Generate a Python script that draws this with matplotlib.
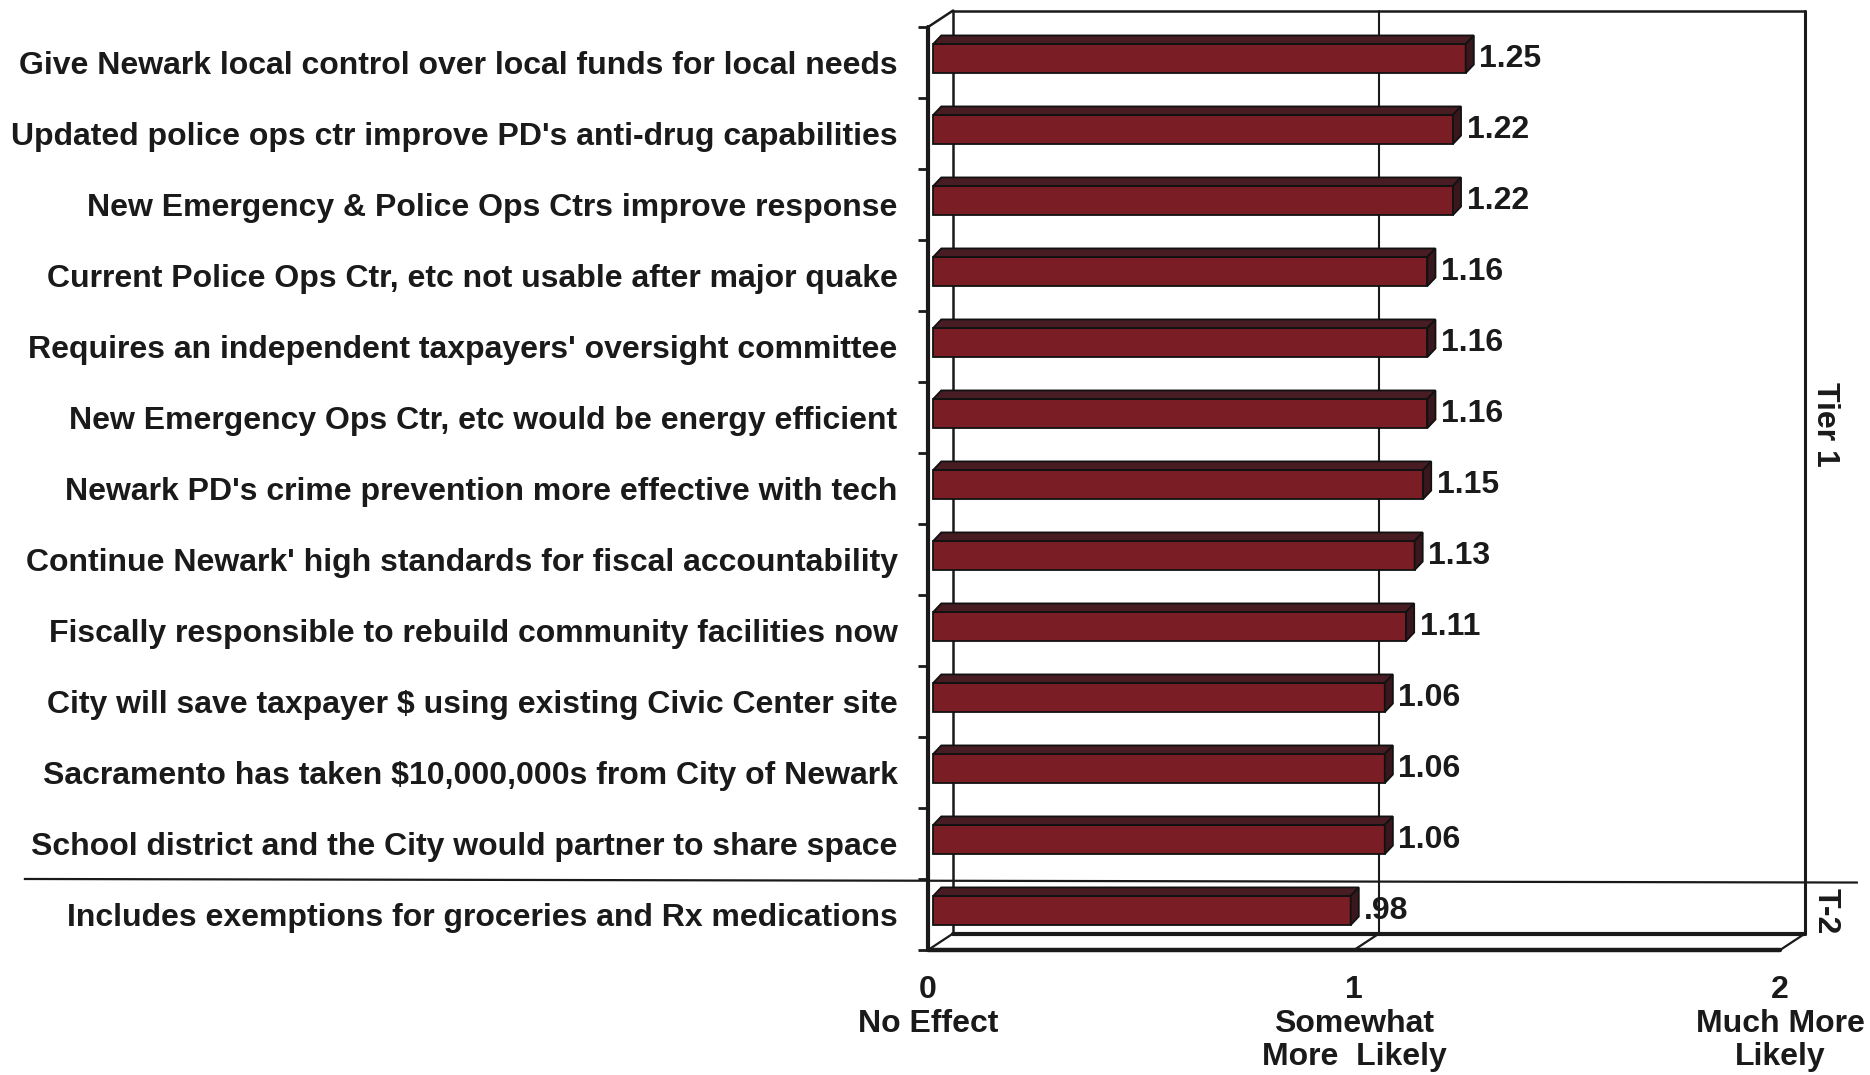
import matplotlib.pyplot as plt
from matplotlib.patches import Polygon

# survey items, top to bottom, with mean scores
labels = [
    "Give Newark local control over local funds for local needs",
    "Updated police ops ctr improve PD's anti-drug capabilities",
    "New Emergency & Police Ops Ctrs improve response",
    "Current Police Ops Ctr, etc not usable after major quake",
    "Requires an independent taxpayers' oversight committee",
    "New Emergency Ops Ctr, etc would be energy efficient",
    "Newark PD's crime prevention more effective with tech",
    "Continue Newark' high standards for fiscal accountability",
    "Fiscally responsible to rebuild community facilities now",
    r"City will save taxpayer \$ using existing Civic Center site",
    r"Sacramento has taken \$10,000,000s from City of Newark",
    "School district and the City would partner to share space",
    "Includes exemptions for groceries and Rx medications",
]
values = [1.25, 1.22, 1.22, 1.16, 1.16, 1.16, 1.15, 1.13, 1.11, 1.06, 1.06, 1.06, 0.98]
value_text = ["1.25", "1.22", "1.22", "1.16", "1.16", "1.16", "1.15", "1.13", "1.11",
              "1.06", "1.06", "1.06", ".98"]
xticks = [0, 1, 2]
xtick_labels = ["0\nNo Effect", "1\nSomewhat\nMore  Likely", "2\nMuch More\nLikely"]
tiers = ["Tier 1", "T-2"]

plt.rcParams['font.family'] = ['Liberation Sans', 'DejaVu Sans']
FS = 23

n = len(values)
ypos = [n - 1 - i for i in range(n)]

fig = plt.figure(figsize=(18.7, 10.75), dpi=100)
ax = fig.add_axes([0.4963, 0.1163, 0.5012, 0.8784])
ax.set_xlim(0, 2.2)
ax.set_ylim(-0.5, 12.8)
for s in ax.spines.values():
    s.set_visible(False)

# depth of the 3d box and of the bars
wdx, wdy = 0.0587, 0.232
bdx, bdy = 0.019, 0.12
x0 = 0.012
bh = 0.41
boff = 0.056
top = n - 0.5
bot = -0.5

# back wall and floor
lk = dict(color="#1a1a1a", solid_capstyle="round", zorder=1)
ax.plot([wdx, 2 + wdx], [top + wdy, top + wdy], lw=1.8, **lk)
ax.plot([wdx, wdx], [bot + wdy, top + wdy], lw=1.8, **lk)
ax.plot([2 + wdx, 2 + wdx], [bot + wdy, top + wdy], lw=2.2, **lk)
ax.plot([1 + wdx, 1 + wdx], [bot + wdy, top + wdy], lw=1.5, **lk)
ax.plot([0, wdx], [top, top + wdy], lw=1.8, **lk)
ax.plot([wdx, 2 + wdx], [bot + wdy, bot + wdy], lw=3, **lk)
ax.plot([0, 2], [bot, bot], lw=3.2, clip_on=False, **lk)
for xv in xticks:
    ax.plot([xv, xv + wdx], [bot, bot + wdy], lw=1.6, clip_on=False, **lk)
ax.plot([0, 0], [bot, top], lw=3, clip_on=False, **lk)

# bars with top and end faces
ax.barh([y + boff for y in ypos], values, height=bh, left=x0, color="#7a1d24",
        edgecolor="#111111", linewidth=1.3, zorder=3)
for y, v, t in zip(ypos, values, value_text):
    yb = y + boff - bh / 2
    yt = y + boff + bh / 2
    x1 = x0 + v
    ax.add_patch(Polygon([(x0, yt), (x1, yt), (x1 + bdx, yt + bdy), (x0 + bdx, yt + bdy)],
                         closed=True, facecolor="#471c22", edgecolor="#111111",
                         linewidth=1.3, zorder=3))
    ax.add_patch(Polygon([(x1, yb), (x1, yt), (x1 + bdx, yt + bdy), (x1 + bdx, yb + bdy)],
                         closed=True, facecolor="#3a171c", edgecolor="#111111",
                         linewidth=1.3, zorder=3))
    ax.text(x1 + 0.032, y + boff, t, fontsize=FS, fontweight="bold", color="#1a1a1a",
            ha="left", va="center", zorder=4)

# tier divider
ax.plot([-2.12, 2.18], [0.5, 0.45], color="#1a1a1a", lw=1.6, clip_on=False, zorder=2)
ax.text(2.106, 6.9, tiers[0], rotation=-90, fontsize=FS, fontweight="bold",
        color="#1a1a1a", ha="center", va="center")
ax.text(2.106, 0.05, tiers[1], rotation=-90, fontsize=FS, fontweight="bold",
        color="#1a1a1a", ha="center", va="center")

# axis labels
ax.set_yticks(ypos)
ax.set_yticklabels(labels, fontsize=FS, fontweight="bold", color="#1a1a1a")
ax.set_yticks([k - 0.5 for k in range(n + 1)], minor=True)
ax.tick_params(axis="y", which="major", length=0, pad=22)
ax.tick_params(axis="y", which="minor", length=7, width=2, color="#1a1a1a", direction="out")
ax.set_xticks(xticks)
ax.set_xticklabels(xtick_labels, fontsize=FS, fontweight="bold", color="#1a1a1a",
                   linespacing=1.16)
ax.tick_params(axis="x", length=0, pad=18)

fig.savefig("out.png", dpi=100)
